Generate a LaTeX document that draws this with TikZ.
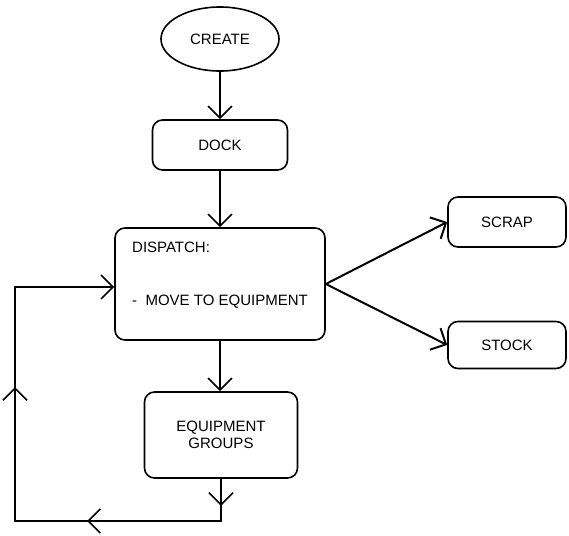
\documentclass[tikz,border=0pt]{standalone}
\usepackage{fontspec}
\setmainfont{Liberation Sans}
\usetikzlibrary{arrows.meta,shapes.geometric,decorations.markings}
\begin{document}
\begin{tikzpicture}[x=1pt,y=-1pt,
  every node/.style={font=\fontsize{15}{17}\selectfont, inner sep=0pt},
  box/.style={draw, line width=1.6pt, rounded corners=10pt},
  barb/.tip={Straight Barb[length=12pt,width=24pt]},
  link/.style={line width=1.6pt, -barb},
  fork/.style={line width=2pt, -barb},
  loopline/.style={line width=1.6pt, -barb, postaction={decorate},
    decoration={markings,
      mark=at position 27pt with {\arrow{barb}},
      mark=at position 176pt with {\arrow{barb}},
      mark=at position 382pt with {\arrow{barb}}}},
]
\useasboundingbox (0,0) rectangle (569,535);

% process blocks
\node[draw, ellipse, line width=1.6pt, minimum width=118, minimum height=64] (create) at (220,39) {CREATE};
\node[box, minimum width=135, minimum height=50] (dock) at (220,145) {DOCK};
\node[box, minimum width=210, minimum height=112] (disp) at (220,284) {};
\node[anchor=west] (dispTitle) at (132,247) {DISPATCH:};
\node[anchor=west] (dispTask) at (132,302) {-\ \ MOVE TO EQUIPMENT};
\node[box, minimum width=153, minimum height=86, align=center] (equip) at (221,435) {EQUIPMENT\\GROUPS};
\node[box, minimum width=118, minimum height=50] (scrap) at (507,222) {SCRAP};
\node[box, minimum width=118, minimum height=47] (stock) at (507,345) {STOCK};

% main flow
\draw[link] (create) -- (dock);
\draw[link] (dock) -- (disp);
\draw[link] (disp) -- (disp |- equip.north);
\coordinate (forkpt) at (disp.east);
\draw[fork] (forkpt) -- (scrap.west);
\draw[fork] (forkpt) -- (stock.west);

% return loop to dispatch
\coordinate (lb) at (221,521);
\coordinate (ll) at (15,521);
\coordinate (lt) at (15,287);
\draw[loopline] (equip.south) -- (lb) -- (ll) -- (lt) -- (disp.west |- lt);
\end{tikzpicture}
\end{document}
